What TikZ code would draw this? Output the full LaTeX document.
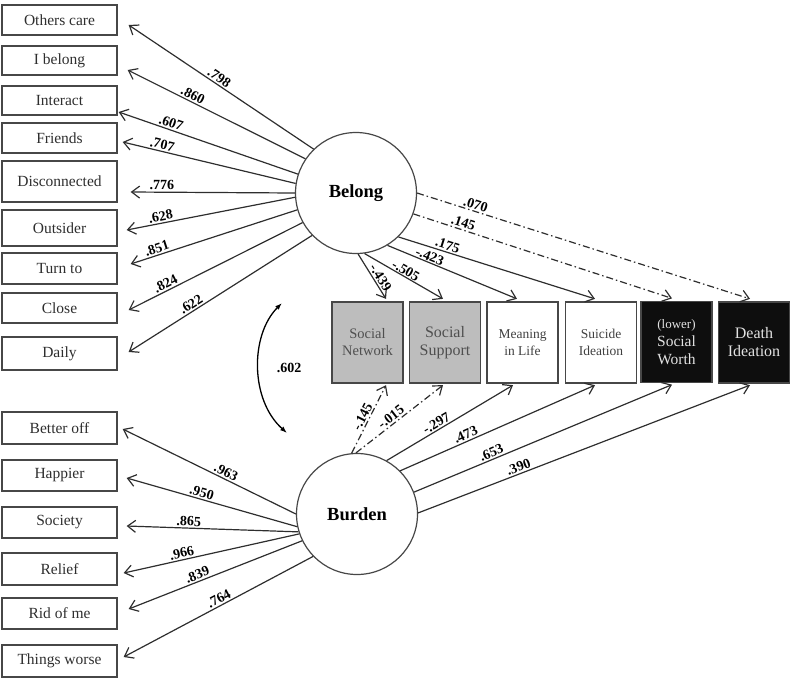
\documentclass[tikz,border=0pt]{standalone}
\usepackage{fontspec}
\setmainfont{Liberation Serif}
\usetikzlibrary{arrows.meta,calc}
\definecolor{boxline}{HTML}{474747}
\definecolor{linec}{HTML}{2E2E2E}
\definecolor{grayfill}{HTML}{BDBDBD}
\definecolor{graytext}{HTML}{4F4F4F}
\definecolor{darkfill}{HTML}{0E0E0E}
\definecolor{lighttext}{HTML}{E2E2E2}
\tikzset{
  ind/.style={draw=boxline, line width=1.3pt, minimum width=115pt, inner sep=0pt,
    text=black!82, font=\fontsize{15.5}{17}\selectfont},
  lat/.style={circle, draw=boxline, line width=1.2pt, minimum size=121pt, inner sep=0pt,
    fill=white, font=\bfseries\fontsize{18.5}{20}\selectfont},
  outc/.style={draw=boxline, line width=1.3pt, minimum width=71pt, minimum height=81pt,
    inner sep=0pt, align=center},
  arr/.style={draw=linec, line width=1.2pt, -{Straight Barb[length=8pt,width=12pt]}},
  dd/.style={dash pattern=on 7pt off 3pt on 1.5pt off 3pt},
  coef/.style={font=\bfseries\fontsize{14}{15}\selectfont, inner sep=1.5pt, sloped, above},
  corr/.style={draw=black, line width=1.3pt, {Latex[length=7pt,width=5pt]}-{Latex[length=7pt,width=5pt]}},
}
\begin{document}
\begin{tikzpicture}[x=1pt,y=-1pt]
\useasboundingbox (0,0) rectangle (800,681);
% indicator boxes (Belong)
\node[ind, minimum height=30pt] (oc) at (59.5,20) {Others care};
\node[ind, minimum height=29pt] (ib) at (59.5,60.5) {I belong};
\node[ind, minimum height=29pt] (ia) at (59.5,100.5) {Interact};
\node[ind, minimum height=30pt] (fr) at (59.5,138) {Friends};
\node[ind, minimum height=41pt] (dc) at (59.5,181.5) {Disconnected};
\node[ind, minimum height=36pt] (os) at (59.5,228) {Outsider};
\node[ind, minimum height=31pt] (tt) at (59.5,268.5) {Turn to};
\node[ind, minimum height=30pt] (cl) at (59.5,308) {Close};
\node[ind, minimum height=33pt] (da) at (59.5,353.5) {Daily};
% indicator boxes (Burden)
\node[ind, minimum height=32pt] (bo) at (59.5,428) {Better off};
\node[ind, minimum height=31pt] (ha) at (59.5,475.5) {Happier};
\node[ind, minimum height=31pt] (so) at (59.5,522.5) {Society};
\node[ind, minimum height=32pt] (re) at (59.5,569) {Relief};
\node[ind, minimum height=31pt] (rm) at (59.5,613.5) {Rid of me};
\node[ind, minimum height=32pt] (tw) at (59.5,661) {Things worse};
% latent variables
\node[lat] (B) at (356,193) {Belong};
\node[lat] (U) at (357,514) {Burden};
% outcomes
\node[outc, fill=grayfill, text=graytext, font=\fontsize{14.5}{17}\selectfont] (sn) at (367.5,342.5) {Social\\Network};
\node[outc, fill=grayfill, text=graytext, font=\fontsize{16}{18}\selectfont] (ss) at (445,342.5) {Social\\Support};
\node[outc, fill=white, text=black!75, font=\fontsize{13.5}{17}\selectfont] (ml) at (522.5,342.5) {Meaning\\in Life};
\node[outc, fill=white, text=black!75, font=\fontsize{13.5}{17}\selectfont] (si) at (601,342.5) {Suicide\\Ideation};
\node[outc, fill=darkfill, text=lighttext, font=\fontsize{15.5}{18}\selectfont] (sw) at (676.5,342) {{\fontsize{13}{16}\selectfont (lower)}\\Social\\Worth};
\node[outc, fill=darkfill, text=lighttext, font=\fontsize{16}{18}\selectfont] (di) at (754,342.5) {Death\\Ideation};
% Belong loadings
\draw[arr] (B.134) -- ($(oc.east)+(11,5)$) node[coef,pos=0.53] {.798};
\draw[arr] (B.146) -- ($(ib.east)+(10,9.5)$) node[coef,pos=0.65] {.860};
\draw[arr] (B.162) -- ($(ia.east)+(1,11.5)$) node[coef,pos=0.72] {.607};
\draw[arr] (B.171) -- ($(fr.east)+(5,4)$) node[coef,pos=0.78] {.707};
\draw[arr] (B.180) -- ($(dc.east)+(13,10.5)$) node[coef,pos=0.81] {.776};
\draw[arr] (B.184) -- ($(os.east)+(9,2)$) node[coef,pos=0.79] {.628};
\draw[arr] (B.196) -- ($(tt.east)+(13,-4.5)$) node[coef,pos=0.83] {.851};
\draw[arr] (B.209) -- ($(cl.east)+(11,2)$) node[coef,pos=0.77] {.824};
\draw[arr] (B.224) -- ($(da.east)+(11,-1.5)$) node[coef,pos=0.64] {.622};
% Burden loadings
\draw[arr] (U.180) -- ($(bo.east)+(5,1)$) node[coef,pos=0.42] {.963};
\draw[arr] (U.192) -- ($(ha.east)+(9,2.5)$) node[coef,pos=0.57] {.950};
\draw[arr] (U.197) -- ($(so.east)+(9,3.5)$) node[coef,pos=0.64] {.865};
\draw[arr] (U.199) -- ($(re.east)+(6,4)$) node[coef,pos=0.66] {.966};
\draw[arr] (U.206) -- ($(rm.east)+(11,-4.5)$) node[coef,pos=0.59] {.839};
\draw[arr] (U.224) -- ($(tw.east)+(6,-4)$) node[coef,pos=0.48] {.764};
% Belong paths
\draw[arr] (B.272) -- ($(sn.north)+(18.5,-2.5)$) node[coef,pos=0.6] {-.439};
\draw[arr] (B.278) -- ($(ss.north)+(-2,-2.5)$) node[coef,pos=0.49,inner sep=0.5pt] {-.505};
\draw[arr] (B.301.6) -- ($(ml.north)+(-5.5,-2.5)$) node[coef,pos=0.31,inner sep=0.5pt] {-.423};
\draw[arr] (B.314) -- ($(si.north)+(-6,-2.5)$) node[coef,pos=0.24] {.175};
\draw[arr,dd] (B.340) -- ($(sw.north)+(-4.5,-2.5)$) node[coef,pos=0.185] {.145};
\draw[arr,dd] (B.0) -- ($(di.north)+(-4,-2.5)$) node[coef,pos=0.17] {.070};
% Burden paths
\draw[arr,dd] (U.95) -- ($(sn.south)+(18.5,1.5)$) node[coef,pos=0.49] {-.145};
\draw[arr,dd] (U.91) -- ($(ss.south)+(-2,1.5)$) node[coef,pos=0.45] {-.015};
\draw[arr] (U.61) -- ($(ml.south)+(-9.5,1.5)$) node[coef,pos=0.42] {-.297};
\draw[arr] (U.45) -- ($(si.south)+(-6,1.5)$) node[coef,pos=0.35] {.473};
\draw[arr] (U.21.6) -- ($(sw.south)+(-4.5,1.5)$) node[coef,pos=0.31] {.653};
\draw[arr] (U.1) -- ($(di.south)+(-4,1.5)$) node[coef,pos=0.31] {.390};
% correlation
\coordinate (c1) at (282,303);
\coordinate (c2) at (287,433);
\draw[corr] (c2) .. controls (250,400) and (250,335) .. (c1);
\node[font=\bfseries\fontsize{14}{15}\selectfont] (r) at (289,368) {.602};
\end{tikzpicture}
\end{document}
